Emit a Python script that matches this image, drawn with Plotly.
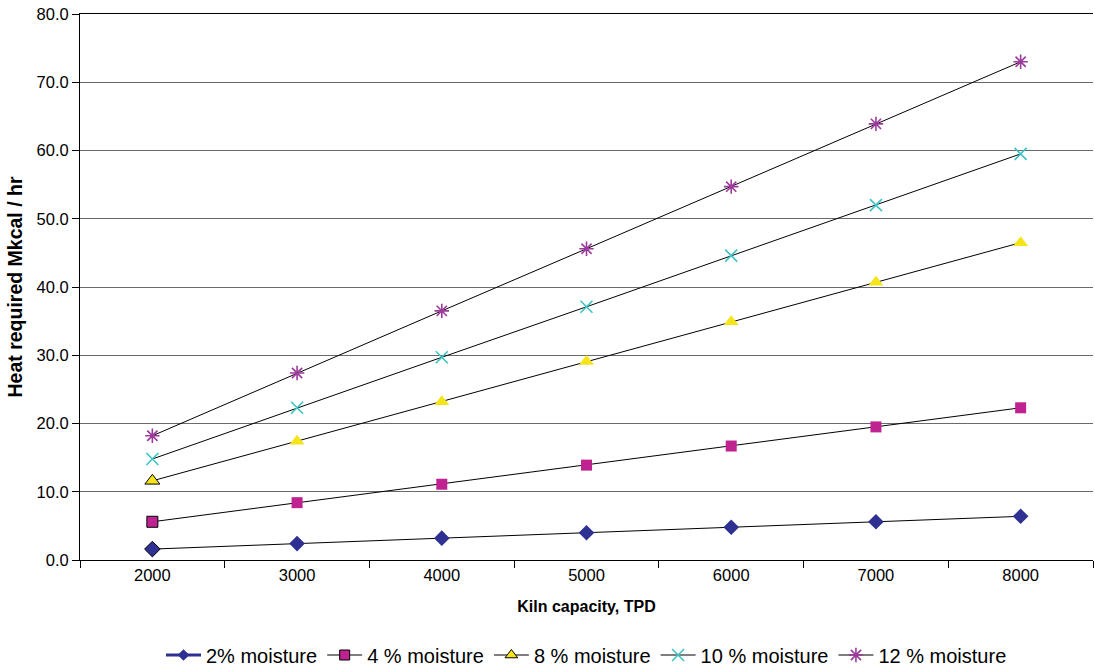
import plotly.graph_objects as go

capacity = ["2000", "3000", "4000", "5000", "6000", "7000", "8000"]
m2 = [1.6, 2.4, 3.2, 4.0, 4.8, 5.6, 6.4]
m4 = [5.6, 8.4, 11.1, 13.9, 16.7, 19.5, 22.3]
m8 = [11.6, 17.4, 23.2, 29.1, 34.9, 40.7, 46.5]
m10 = [14.8, 22.3, 29.7, 37.1, 44.6, 52.0, 59.5]
m12 = [18.2, 27.4, 36.5, 45.6, 54.7, 63.9, 73.0]

FONT = "Liberation Sans, Arial, sans-serif"
first_outline = [1] + [0] * 6

fig = go.Figure()

# data traces (legend entries are drawn by separate legend-only traces)
fig.add_trace(go.Scatter(
    x=capacity, y=m2, mode="lines+markers", showlegend=False,
    line=dict(color="black", width=1),
    marker=dict(symbol="diamond", size=12, color="#2E3192",
                line=dict(color="black", width=first_outline)),
))
fig.add_trace(go.Scatter(
    x=capacity, y=m4, mode="lines+markers", showlegend=False,
    line=dict(color="black", width=1),
    marker=dict(symbol="square", size=11, color="#BE2391",
                line=dict(color="black", width=first_outline)),
))
fig.add_trace(go.Scatter(
    x=capacity, y=m8, mode="lines+markers", showlegend=False,
    line=dict(color="black", width=1),
    marker=dict(symbol="triangle-up", size=13, color="#F5E41A",
                line=dict(color="black", width=first_outline)),
))
fig.add_trace(go.Scatter(
    x=capacity, y=m10, mode="lines+markers", name="10 % moisture",
    line=dict(color="black", width=1),
    marker=dict(symbol="x-thin-open", size=12, color="#3CC3C3",
                line=dict(color="#3CC3C3", width=1.6)),
))
fig.add_trace(go.Scatter(
    x=capacity, y=m12, mode="lines+markers", name="12 % moisture",
    line=dict(color="black", width=1),
    marker=dict(symbol="asterisk-open", size=12, color="#9B3A9B",
                line=dict(color="#9B3A9B", width=1.6)),
))

# legend-only entries
fig.add_trace(go.Scatter(
    x=[None], y=[None], mode="lines+markers", name="2% moisture", legendrank=1,
    line=dict(color="#2E3192", width=3),
    marker=dict(symbol="diamond", size=9, color="#2E3192"),
))
fig.add_trace(go.Scatter(
    x=[None], y=[None], mode="lines+markers", name="4 % moisture", legendrank=2,
    line=dict(color="black", width=1),
    marker=dict(symbol="square", size=10, color="#BE2391", line=dict(color="black", width=1)),
))
fig.add_trace(go.Scatter(
    x=[None], y=[None], mode="lines+markers", name="8 % moisture", legendrank=3,
    line=dict(color="black", width=1),
    marker=dict(symbol="triangle-up", size=11, color="#F5E41A", line=dict(color="black", width=1)),
))
fig.data[3].legendrank = 4
fig.data[4].legendrank = 5

fig.update_layout(
    width=1095, height=667,
    margin=dict(l=80, r=2, t=14, b=107, autoexpand=False),
    paper_bgcolor="white", plot_bgcolor="white",
    font=dict(family=FONT, size=16, color="black"),
    showlegend=True,
    legend=dict(orientation="h", x=0.5, xanchor="center",
                y=-0.174, yanchor="middle",
                font=dict(size=20), itemwidth=35, tracegroupgap=0),
    xaxis=dict(
        type="category", range=[-0.5, 6.5], tickson="boundaries",
        ticks="outside", ticklen=7, tickcolor="black",
        showline=True, linecolor="black", linewidth=1, mirror=True,
        showgrid=False, tickfont=dict(size=16.5),
        title=dict(text="<b>Kiln capacity, TPD</b>", font=dict(size=16), standoff=18),
    ),
    yaxis=dict(
        range=[0, 80], dtick=10, tickformat=".1f",
        ticks="outside", ticklen=7, tickcolor="black",
        showline=True, linecolor="black", linewidth=1,
        showgrid=True, gridcolor="#6a6a6a", gridwidth=1,
        zeroline=False, tickfont=dict(size=16.5), ticklabeloverflow="allow",
        title=dict(text="<b>Heat required Mkcal / hr</b>", font=dict(size=19.5), standoff=8),
    ),
)

# remove the default 8px page margin so the figure fills the window exactly
fig.write_html("out.html", config={"displayModeBar": False},
               post_script="document.body.style.margin='0';")
